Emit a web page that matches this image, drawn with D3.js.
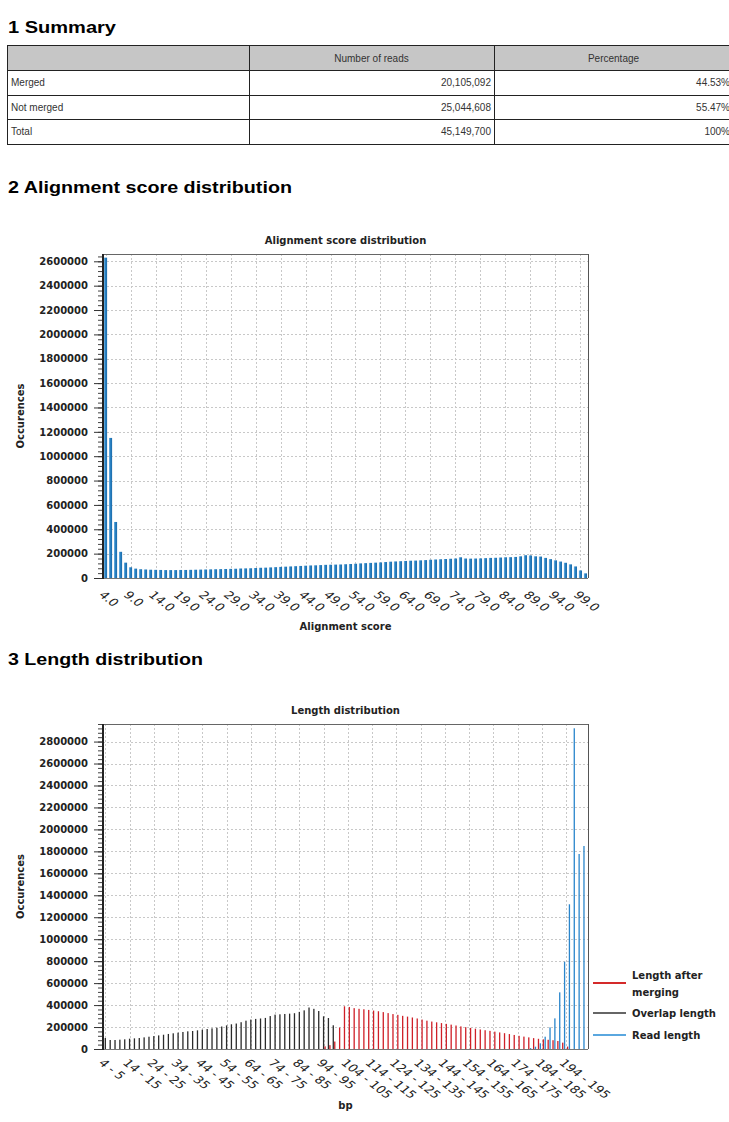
<!DOCTYPE html>
<html><head><meta charset="utf-8">
<script src="https://cdn.jsdelivr.net/npm/d3@7"></script>
<style>
html,body{margin:0;padding:0;background:#fff;}
svg{display:block;}
</style></head>
<body>
<svg id="c" width="729" height="1122"></svg>
<script>
// ---------- DATA ----------
const summaryHeader = ["", "Number of reads", "Percentage"];
const summaryLabels = ["Merged", "Not merged", "Total"];
const summaryReads = ["20,105,092", "25,044,608", "45,149,700"];
const summaryPct = ["44.53%", "55.47%", "100%"];

const alignScores = [4,5,6,7,8,9,10,11,12,13,14,15,16,17,18,19,20,21,22,23,24,25,26,27,28,29,30,31,32,33,34,35,36,37,38,39,40,41,42,43,44,45,46,47,48,49,50,51,52,53,54,55,56,57,58,59,60,61,62,63,64,65,66,67,68,69,70,71,72,73,74,75,76,77,78,79,80,81,82,83,84,85,86,87,88,89,90,91,92,93,94,95,96,97,98,99,100];
const alignCounts = [2630000,1150000,460000,215000,126000,88000,77000,72000,70000,68000,67000,66000,65000,65000,65000,66000,66000,67000,68000,69000,70000,71000,72000,73000,74000,75000,76000,78000,79000,80000,82000,84000,85000,87000,89000,91000,93000,95000,97000,99000,101000,103000,104000,106000,108000,109000,110000,111000,113000,115000,117000,120000,122000,124000,126000,128000,131000,134000,136000,138000,140000,142000,143000,145000,147000,150000,152000,154000,156000,158000,160000,170000,160000,159000,160000,161000,163000,165000,166000,168000,170000,171000,173000,178000,187000,185000,178000,176000,165000,155000,145000,135000,125000,112000,95000,62000,38000];
const alignTickLabels = ["4.0","9.0","14.0","19.0","24.0","29.0","34.0","39.0","44.0","49.0","54.0","59.0","64.0","69.0","74.0","79.0","84.0","89.0","94.0","99.0"];
const alignYTicks = [0,200000,400000,600000,800000,1000000,1200000,1400000,1600000,1800000,2000000,2200000,2400000,2600000];

const lengthBins = ["4 - 5","6 - 7","8 - 9","10 - 11","12 - 13","14 - 15","16 - 17","18 - 19","20 - 21","22 - 23","24 - 25","26 - 27","28 - 29","30 - 31","32 - 33","34 - 35","36 - 37","38 - 39","40 - 41","42 - 43","44 - 45","46 - 47","48 - 49","50 - 51","52 - 53","54 - 55","56 - 57","58 - 59","60 - 61","62 - 63","64 - 65","66 - 67","68 - 69","70 - 71","72 - 73","74 - 75","76 - 77","78 - 79","80 - 81","82 - 83","84 - 85","86 - 87","88 - 89","90 - 91","92 - 93","94 - 95","96 - 97","98 - 99","100 - 101","102 - 103","104 - 105","106 - 107","108 - 109","110 - 111","112 - 113","114 - 115","116 - 117","118 - 119","120 - 121","122 - 123","124 - 125","126 - 127","128 - 129","130 - 131","132 - 133","134 - 135","136 - 137","138 - 139","140 - 141","142 - 143","144 - 145","146 - 147","148 - 149","150 - 151","152 - 153","154 - 155","156 - 157","158 - 159","160 - 161","162 - 163","164 - 165","166 - 167","168 - 169","170 - 171","172 - 173","174 - 175","176 - 177","178 - 179","180 - 181","182 - 183","184 - 185","186 - 187","188 - 189","190 - 191","192 - 193","194 - 195","196 - 197","198 - 199","200 - 201","202 - 203"];
const mergedLength = [0,0,0,0,0,0,0,0,0,0,0,0,0,0,0,0,0,0,0,0,0,0,0,0,0,0,0,0,0,0,0,0,0,0,0,0,0,0,0,0,0,0,0,0,0,24000,35000,68000,195000,389000,383000,372000,366000,362000,356000,350000,344000,336000,327000,318000,311000,302000,295000,287000,278000,268000,258000,250000,243000,236000,229000,222000,214000,206000,199000,192000,185000,178000,171000,165000,158000,151000,144000,136000,128000,120000,113000,106000,99000,93000,88000,84000,80000,73000,58000,22000,0,0,0,0];
const overlapLength = [100000,82000,82000,85000,88000,94000,97000,100000,106000,112000,118000,124000,130000,137000,143000,149000,155000,161000,164000,170000,176000,182000,188000,194000,205000,215000,225000,232000,244000,258000,268000,274000,278000,283000,300000,313000,316000,319000,322000,326000,338000,352000,378000,366000,346000,298000,282000,216000,0,0,0,0,0,0,0,0,0,0,0,0,0,0,0,0,0,0,0,0,0,0,0,0,0,0,0,0,0,0,0,0,0,0,0,0,0,0,0,0,0,0,0,0,0,0,0,0,0,0,0,0];
const readLength = [0,0,0,0,0,0,0,0,0,0,0,0,0,0,0,0,0,0,0,0,0,0,0,0,0,0,0,0,0,0,0,0,0,0,0,0,0,0,0,0,0,0,0,0,0,0,0,0,0,0,0,0,0,0,0,0,0,0,0,0,0,0,0,0,0,0,0,0,0,0,0,0,0,0,0,0,0,0,0,0,0,0,0,0,0,0,0,0,8000,21000,52000,112000,197000,279000,516000,795000,1318000,2921000,1776000,1849000];
const lengthTickLabels = ["4 - 5","14 - 15","24 - 25","34 - 35","44 - 45","54 - 55","64 - 65","74 - 75","84 - 85","94 - 95","104 - 105","114 - 115","124 - 125","134 - 135","144 - 145","154 - 155","164 - 165","174 - 175","184 - 185","194 - 195"];
const lengthYTicks = [0,200000,400000,600000,800000,1000000,1200000,1400000,1600000,1800000,2000000,2200000,2400000,2600000,2800000];
const legendNames = ["Length after merging","Overlap length","Read length"];

// ---------- DRAW ----------
const svg = d3.select("#c");
const FONT = "'DejaVu Sans', sans-serif";
const HFONT = "'Liberation Sans', Arial, sans-serif";

const defs = svg.append("defs");
const g1 = defs.append("linearGradient").attr("id","barGrad").attr("x1","0").attr("x2","1").attr("y1","0").attr("y2","0");
g1.append("stop").attr("offset","0%").attr("stop-color","#7db8e4");
g1.append("stop").attr("offset","40%").attr("stop-color","#2a84c6");
g1.append("stop").attr("offset","100%").attr("stop-color","#1b6aa8");

function heading(t, y, w){
  svg.append("text").attr("x",8).attr("y",y).attr("font-family",HFONT).attr("font-weight","bold")
    .attr("font-size",16).attr("fill","#000").attr("textLength",w).attr("lengthAdjust","spacingAndGlyphs").text(t);
}
heading("1 Summary", 33, 108);
heading("2 Alignment score distribution", 193, 284);
heading("3 Length distribution", 665, 195);

// ---------- table ----------
const colX = [7, 249, 494, 733];
const rowY = [45, 70, 95, 119, 144];
const tbl = svg.append("g");
tbl.append("rect").attr("x",colX[0]).attr("y",rowY[0]).attr("width",colX[3]-colX[0]).attr("height",rowY[1]-rowY[0]).attr("fill","#c6c6c6");
rowY.forEach(y=>tbl.append("line").attr("x1",colX[0]).attr("x2",colX[3]).attr("y1",y+0.5).attr("y2",y+0.5).attr("stroke","#222").attr("stroke-width",1));
colX.forEach(x=>tbl.append("line").attr("x1",x+0.5).attr("x2",x+0.5).attr("y1",rowY[0]).attr("y2",rowY[4]).attr("stroke","#222").attr("stroke-width",1));
const tf = {"font-family":HFONT,"font-size":10,"fill":"#333"};
function tt(x,y,t,anchor){ const e=tbl.append("text").attr("x",x).attr("y",y).attr("text-anchor",anchor).text(t); Object.entries(tf).forEach(([k,v])=>e.attr(k,v)); }
tt((colX[1]+colX[2])/2, 61.5, summaryHeader[1], "middle");
tt((colX[2]+colX[3])/2, 61.5, summaryHeader[2], "middle");
summaryLabels.forEach((l,i)=>{
  const yb = rowY[i+1] + (rowY[i+2]-rowY[i+1])/2 + 3.5;
  tt(colX[0]+4, yb, l, "start");
  tt(colX[2]-3, yb, summaryReads[i], "end");
  tt(colX[3]-3, yb, summaryPct[i], "end");
});

// ---------- generic chart frame ----------
function frame(cfg){
  const {x0,x1,y0,y1,y,yTicks,minorStep,xScale,tickCats,tickLabels,title,xTitle,xTitleY,labGap} = cfg;
  const g = svg.append("g");
  g.append("text").attr("x",(x0+x1)/2).attr("y",y0-10).attr("text-anchor","middle")
    .attr("font-family",FONT).attr("font-weight","bold").attr("font-size",10).attr("fill","#222").text(title);
  const grid = g.append("g").attr("stroke","#c8c8c8").attr("stroke-width",1).attr("stroke-dasharray","2,2");
  yTicks.forEach(v=>{ if(v>0) grid.append("line").attr("x1",x0).attr("x2",x1).attr("y1",Math.round(y(v))+0.5).attr("y2",Math.round(y(v))+0.5); });
  tickCats.forEach(c=>{ const cx = Math.round(xScale(c)+xScale.bandwidth()/2)+0.5; if(cx>x0+2) grid.append("line").attr("x1",cx).attr("x2",cx).attr("y1",y0).attr("y2",y1); });
  const minors=[]; for(let v=0; v<=y.domain()[1]; v+=minorStep) minors.push(v);
  const minorAxis = g.append("g").attr("transform",`translate(${x0},0)`)
    .call(d3.axisLeft(y).tickValues(minors).tickSize(5).tickFormat(""));
  minorAxis.select(".domain").remove();
  minorAxis.selectAll("line").attr("stroke","#444");
  const ax = g.append("g").attr("transform",`translate(${x0},0)`)
    .call(d3.axisLeft(y).tickValues(yTicks).tickSize(9).tickPadding(6).tickFormat(d3.format("d")));
  ax.select(".domain").remove();
  ax.selectAll("line").attr("stroke","#333");
  ax.selectAll("text").attr("font-family",FONT).attr("font-weight","bold").attr("font-size",10).attr("fill","#222");
  g.append("text").attr("transform",`translate(24,${(y0+y1)/2}) rotate(-90)`).attr("text-anchor","middle")
    .attr("font-family",FONT).attr("font-weight","bold").attr("font-size",10).attr("fill","#222").text("Occurences");
  const lab = g.append("g");
  tickCats.forEach((c,i)=>{
    const cx = xScale(c)+xScale.bandwidth()/2;
    lab.append("text").attr("font-family",FONT).attr("font-size",10.5).attr("fill","#222")
      .attr("text-anchor","start").attr("dominant-baseline","central")
      .attr("transform",`translate(${cx-4.5},${y1+labGap}) scale(1.3,1) rotate(45)`)
      .text(tickLabels[i]);
  });
  g.append("text").attr("x",(x0+x1)/2).attr("y",xTitleY).attr("text-anchor","middle")
    .attr("font-family",FONT).attr("font-weight","bold").attr("font-size",10).attr("fill","#222").text(xTitle);
  return g;
}
function border(x0,x1,y0,y1){
  const b = svg.append("g");
  b.append("line").attr("x1",x0).attr("x2",x1).attr("y1",y0+0.5).attr("y2",y0+0.5).attr("stroke","#666");
  b.append("line").attr("x1",x1+0.5).attr("x2",x1+0.5).attr("y1",y0).attr("y2",y1).attr("stroke","#555");
  b.append("line").attr("x1",x0).attr("x2",x1).attr("y1",y1+0.5).attr("y2",y1+0.5).attr("stroke","#777");
  b.append("line").attr("x1",x0).attr("x2",x0).attr("y1",y0).attr("y2",y1+1).attr("stroke","#222").attr("stroke-width",2);
}

// ---------- chart 2 ----------
{
  const x0=103,x1=588,y0=254,y1=578;
  const x = d3.scaleBand().domain(alignScores).range([x0,x1]).paddingInner(0.38).paddingOuter(0.2);
  const y = d3.scaleLinear().domain([0,2660000]).range([y1,y0]);
  const tickCats = alignTickLabels.map(l=>+l);
  frame({x0,x1,y0,y1,y,yTicks:alignYTicks,minorStep:40000,xScale:x,tickCats,tickLabels:alignTickLabels,
    title:"Alignment score distribution",xTitle:"Alignment score",xTitleY:630,labGap:15});
  svg.append("g").selectAll("rect").data(alignScores).join("rect")
    .attr("x",d=>x(d)).attr("width",x.bandwidth())
    .attr("y",(d,i)=>y(alignCounts[i])).attr("height",(d,i)=>y1-y(alignCounts[i]))
    .attr("fill","url(#barGrad)");
  border(x0,x1,y0,y1);
}

// ---------- chart 3 ----------
{
  const x0=103,x1=588,y0=724,y1=1049;
  const x = d3.scaleBand().domain(lengthBins).range([x0,x1]).padding(0);
  const y = d3.scaleLinear().domain([0,2960000]).range([y1,y0]);
  frame({x0,x1,y0,y1,y,yTicks:lengthYTicks,minorStep:40000,xScale:x,tickCats:lengthTickLabels,tickLabels:lengthTickLabels,
    title:"Length distribution",xTitle:"bp",xTitleY:1109,labGap:12});
  const series = [
    {vals:readLength, color:"#2a86cc", off:-1.6},
    {vals:overlapLength, color:"#2a2a2a", off:-0.1},
    {vals:mergedLength, color:"#cf1f27", off:1.4}
  ];
  const bw = 1.3;
  series.forEach(s=>{
    svg.append("g").selectAll("rect").data(lengthBins).join("rect")
      .attr("x",d=>x(d)+x.bandwidth()/2+s.off-bw/2).attr("width",bw)
      .attr("y",(d,i)=>y(s.vals[i])).attr("height",(d,i)=>y1-y(s.vals[i]))
      .attr("fill",s.color);
  });
  border(x0,x1,y0,y1);
  const lg = svg.append("g");
  const items = [
    {lines:["Length after","merging"], color:"#d42a2a", ly:983, ty:[975,992]},
    {lines:["Overlap length"], color:"#666", ly:1013, ty:[1013]},
    {lines:["Read length"], color:"#5aa7df", ly:1035, ty:[1035]}
  ];
  items.forEach(it=>{
    lg.append("line").attr("x1",593).attr("x2",626).attr("y1",it.ly).attr("y2",it.ly).attr("stroke",it.color).attr("stroke-width",2);
    it.lines.forEach((l,j)=>lg.append("text").attr("x",632).attr("y",it.ty[j]).attr("dominant-baseline","central")
      .attr("font-family",FONT).attr("font-weight","bold").attr("font-size",10).attr("fill","#222").text(l));
  });
}
</script>
</body></html>
